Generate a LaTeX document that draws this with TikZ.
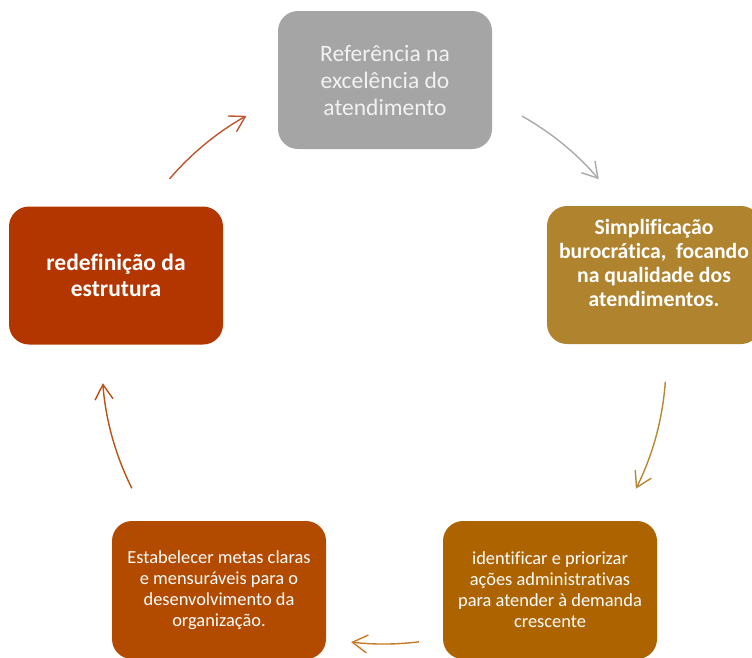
\documentclass[tikz,border=0pt]{standalone}
\usepackage{fontspec}
\setmainfont{Carlito}[Ligatures=NoCommon]
\usetikzlibrary{arrows.meta,calc}
\definecolor{cGray}{RGB}{165,165,165}
\definecolor{cGold}{RGB}{176,131,47}
\definecolor{cOrange}{RGB}{173,100,0}
\definecolor{cRust}{RGB}{178,75,0}
\definecolor{cRed}{RGB}{179,53,0}
\definecolor{aRed}{RGB}{190,85,45}
\definecolor{aGray}{RGB}{170,170,170}
\definecolor{aGold}{RGB}{182,136,52}
\definecolor{aOrange}{RGB}{200,122,40}
\definecolor{aRust}{RGB}{186,82,22}
\begin{document}
\begin{tikzpicture}[x=1pt,y=-1pt,
  box/.style={rounded corners=20pt, minimum width=214pt, minimum height=138pt,
    inner sep=0pt, align=center, text=white},
  arr/.style={line width=1.4pt, -{Straight Barb[length=15pt,width=18pt,line width=1.4pt]}}]
\useasboundingbox (0,0) rectangle (752,657);
\coordinate (C) at (384,362);

\node[box, fill=cGray, text={rgb,255:red,242;green,242;blue,242},
  font=\fontsize{23.5}{27}\selectfont] (top) at (385,80)
  {Referência na\\excelência do\\atendimento};
\node[box, fill=cGold, font=\bfseries\fontsize{21.7}{24}\selectfont] (right) at (654,275)
  {Simplificação\\burocrática,\ \ focando\\na qualidade dos\\atendimentos.\\\mbox{}};
\node[box, fill=cOrange, font=\fontsize{18.4}{21}\selectfont] (brt) at (550,590)
  {identificar e priorizar\\ações administrativas\\para atender à demanda\\crescente};
\node[box, fill=cRust, font=\fontsize{18.4}{21}\selectfont] (blt) at (219,590)
  {Estabelecer metas claras\\e mensuráveis para o\\desenvolvimento da\\organização.};
\node[box, fill=cRed, font=\bfseries\fontsize{23.5}{26}\selectfont] (left) at (116,275.5)
  {redefinição da\\estrutura};

\coordinate (a1) at ($(C)+(220.5:282)$);
\coordinate (a2) at ($(C)+(-60.7:282)$);
\coordinate (a3) at ($(C)+(4:282)$);
\coordinate (a4) at ($(C)+(82.9:282)$);
\coordinate (a5) at ($(C)+(153.4:282)$);

\draw[arr, aRed] (a1) arc[start angle=220.5, end angle=240.8, radius=282];
\draw[arr, aGray] (a2) arc[start angle=-60.7, end angle=-40.4, radius=282];
\draw[arr, aGold] (a3) arc[start angle=4, end angle=26.7, radius=282];
\draw[arr, aOrange] (a4) arc[start angle=82.9, end angle=96.7, radius=282];
\draw[arr, aRust] (a5) arc[start angle=153.4, end angle=175.7, radius=282];
\end{tikzpicture}
\end{document}
